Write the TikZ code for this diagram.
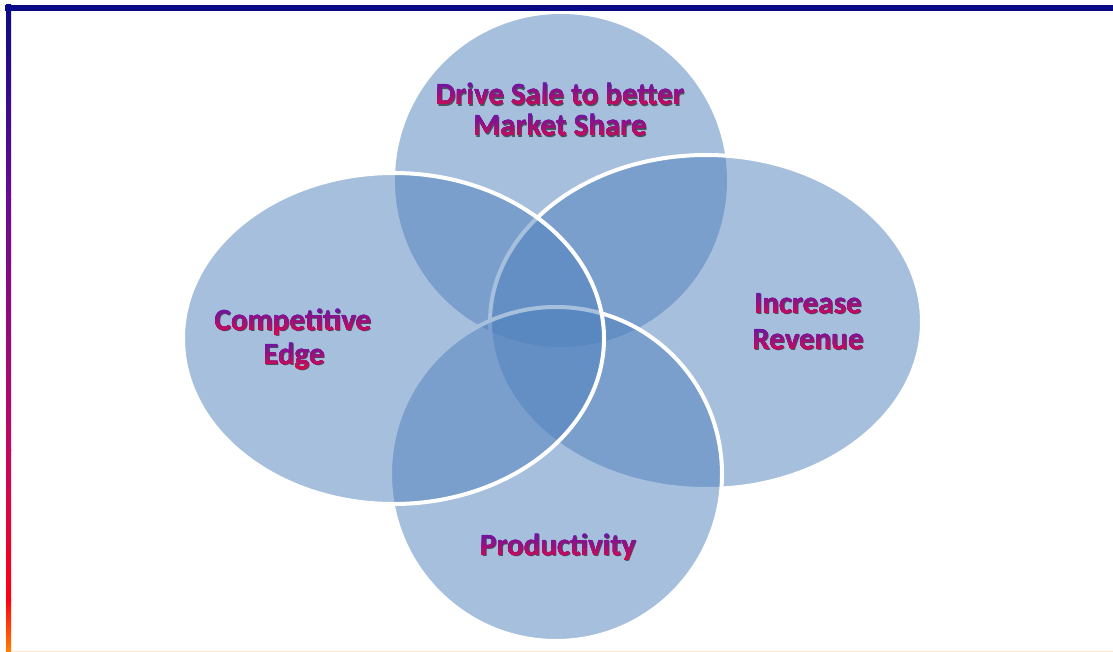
\documentclass[tikz,border=0pt]{standalone}
\usepackage{fontspec}
\newfontfamily\carl{Carlito}
\definecolor{ellfill}{HTML}{4F81BD}
\definecolor{gtop}{HTML}{6A16A8}
\definecolor{gbot}{HTML}{EA0838}
\definecolor{navy}{HTML}{0A0A88}
\definecolor{fpurple}{HTML}{6A0A92}
\definecolor{fmag}{HTML}{C00860}
\definecolor{fred}{HTML}{FF0010}
\definecolor{forange}{HTML}{FF8000}
\tikzset{
  ell/.style={fill=ellfill, fill opacity=0.5, draw=white, line width=4pt},
  ellplain/.style={fill=ellfill, fill opacity=0.5},
  gtxt/.style={font=\carl\bfseries\fontsize{31}{31}\selectfont, inner sep=0pt, anchor=base},
}
\newcommand\gline[4]{%
  \node[gtxt, text=black!85, opacity=0.7] (s#1) at (#2+1, #3+1.2) {#4};
  \node[gtxt, text=gtop] (t#1) at (#2, #3) {#4};
  \foreach \k in {1,...,15}{%
    \pgfmathtruncatemacro\pc{100-\k*100/15}%
    \begin{scope}
      \clip (#2-260, #3-22+2*\k) rectangle (#2+260, #3+20);
      \node[gtxt, text=gtop!\pc!gbot] (t#1\k) at (#2, #3) {#4};
    \end{scope}
  }%
}
\begin{document}
\begin{tikzpicture}[x=1pt, y=-1pt]
\useasboundingbox (0,0) rectangle (1113,652);
\fill[white] (0,0) rectangle (1113,652);
% frame
\fill[navy] (5,5) rectangle (1113,11);
\shade[top color=navy, bottom color=fpurple] (6,5) rectangle (11,200);
\shade[top color=fpurple, bottom color=fmag] (6,199.5) rectangle (11,450);
\shade[top color=fmag, bottom color=fred] (6,449.5) rectangle (11,600);
\shade[top color=fred, bottom color=forange] (6,599.5) rectangle (11,652);
\draw[orange!20, line width=1pt] (11,651.5) -- (1113,651.5);
% ellipses
\path[ellplain] (561,180.5) ellipse [x radius=166pt, y radius=166.5pt];
\path[ell] (706,322) ellipse [x radius=216pt, y radius=167pt];
\path[ell] (556,474) ellipse [x radius=166pt, y radius=167pt];
\path[ell] (393.5,338.5) ellipse [x radius=210.5pt, y radius=165.5pt];
% labels
\gline{a}{560}{105}{Drive Sale to better}
\gline{b}{560}{136}{Market Share}
\gline{c}{293}{330}{Competitive}
\gline{d}{294}{364}{Edge}
\gline{e}{808}{313}{Increase}
\gline{f}{808}{349}{Revenue}
\gline{g}{558}{555}{Productivity}
\end{tikzpicture}
\end{document}
